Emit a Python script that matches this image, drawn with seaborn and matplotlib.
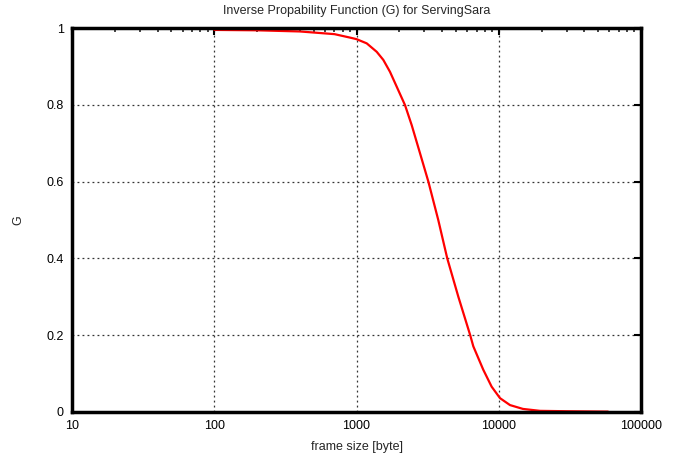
import matplotlib
matplotlib.use("Agg")
import matplotlib.pyplot as plt
import seaborn as sns
import pandas as pd
from matplotlib.ticker import LogLocator, FixedLocator, NullFormatter, FixedFormatter

frame_size = [100, 200, 400, 700, 900, 1000, 1180, 1387, 1543, 1719, 1918, 2194,
              2444, 2795, 3200, 3757, 4345, 5200, 6300, 6625, 7785, 8910, 10210,
              12000, 14800, 19500, 30000, 58600]
g_values = [0.995, 0.994, 0.991, 0.984, 0.975, 0.971, 0.960, 0.938, 0.917, 0.886, 0.847, 0.799,
            0.747, 0.674, 0.6, 0.5, 0.4, 0.3, 0.2, 0.171, 0.11, 0.066, 0.036,
            0.018, 0.008, 0.003, 0.002, 0.001]
x_ticks = [10, 100, 1000, 10000, 100000]
x_tick_labels = ["10", "100", "1000", "10000", "100000"]
y_ticks = [0, 0.2, 0.4, 0.6, 0.8, 1]
y_tick_labels = ["0", "0.2", "0.4", "0.6", "0.8", "1"]

sns.set_style("white")
plt.rcParams['font.family'] = ['Liberation Sans', 'DejaVu Sans']

df = pd.DataFrame({"frame size": frame_size, "G": g_values})

fig = plt.figure(figsize=(6.81, 4.57), dpi=100)
ax = fig.add_axes([72/681, 1-412/457, (641-72)/681, (412-28)/457])
sns.lineplot(data=df, x="frame size", y="G", ax=ax, color="#ff0000", linewidth=1.6)
ax.set_xscale("log")
ax.set_xlim(10, 100000)
ax.set_ylim(0, 1)

ax.xaxis.set_major_locator(FixedLocator(x_ticks))
ax.xaxis.set_major_formatter(FixedFormatter(x_tick_labels))
ax.xaxis.set_minor_locator(LogLocator(base=10, subs=range(2, 10)))
ax.xaxis.set_minor_formatter(NullFormatter())
ax.yaxis.set_major_locator(FixedLocator(y_ticks))
ax.yaxis.set_major_formatter(FixedFormatter(y_tick_labels))

ax.tick_params(which="major", direction="in", length=5, width=1.5, top=True, right=True,
               labelsize=9, pad=6, colors="black")
ax.tick_params(which="minor", direction="in", length=3, width=1.2, top=True, right=True)

for sp in ax.spines.values():
    sp.set_linewidth(2.5)
    sp.set_color("black")
    sp.set_visible(True)

ax.grid(True, which="major", linestyle=(0, (1.5, 2.5)), color="#333333", linewidth=0.9)

ax.set_xlabel("frame size [byte]", fontsize=9, labelpad=6)
ax.set_ylabel("G", fontsize=9, labelpad=16)
ax.set_title("Inverse Propability Function (G) for ServingSara", fontsize=9, pad=10)

fig.savefig("out.png", dpi=100)
